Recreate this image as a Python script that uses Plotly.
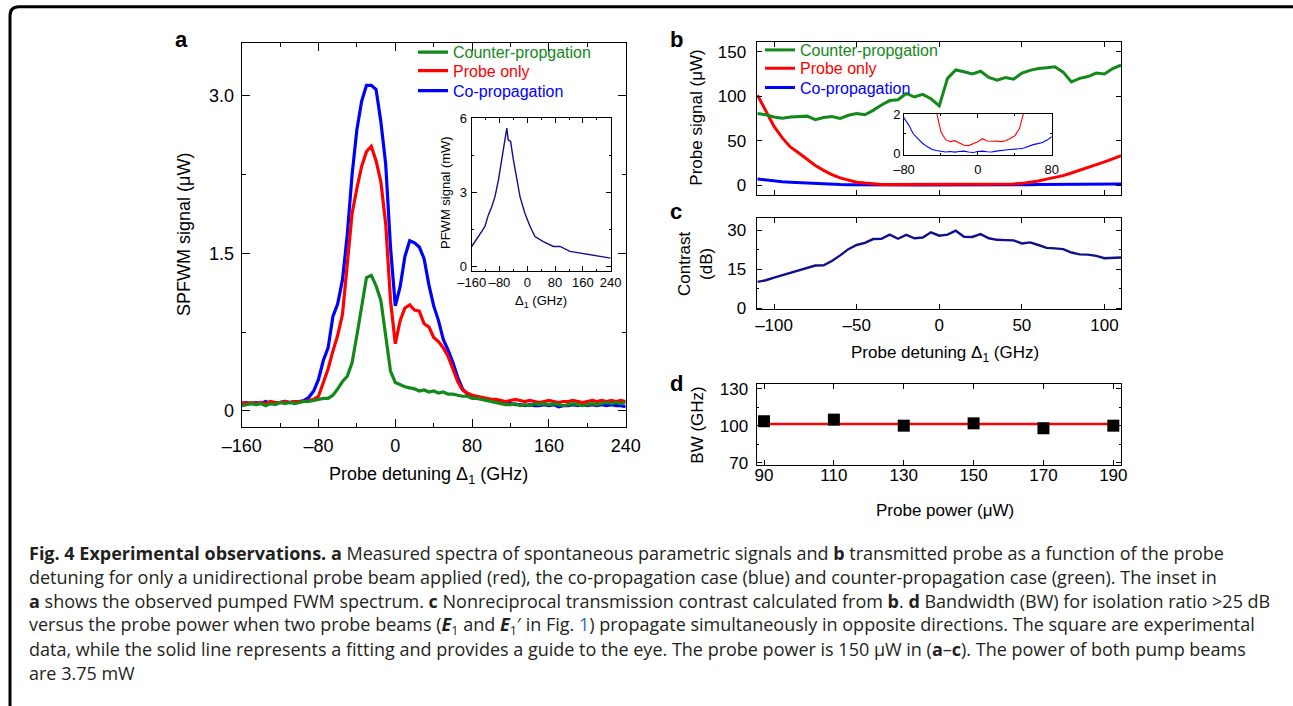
import plotly.graph_objects as go

W, H = 1293, 706
FONT = "Liberation Sans, Arial, sans-serif"
CAP_FONT = "Open Sans, Noto Sans, sans-serif"
GREEN = "#13891a"
RED = "#ff0000"
BLUE = "#0000ff"
NAVY = "#10108a"

# ---------------- panel a: SPFWM spectra ----------------
a_x = [-160, -155, -150, -145, -140, -135, -130, -125, -120, -115, -110, -105, -100, -95, -90,
       -85, -80, -75, -70, -65, -60, -55, -50, -45, -40, -35, -30, -25, -20, -15, -10, -5,
       0, 5, 10, 15, 20, 25, 30, 35, 40, 45, 50, 55, 60, 65, 70, 75, 80, 85, 90, 95, 100,
       105, 110, 115, 120, 125, 130, 135, 140, 145, 150, 155, 160, 165, 170, 175, 180, 185,
       190, 195, 200, 205, 210, 215, 220, 225, 230, 235, 240]
a_counter = [0.05, 0.06, 0.07, 0.06, 0.07, 0.05, 0.07, 0.06, 0.08, 0.07, 0.08, 0.07, 0.08, 0.09, 0.09,
             0.10, 0.11, 0.12, 0.12, 0.15, 0.21, 0.28, 0.33, 0.46, 0.72, 1.02, 1.27, 1.29, 1.19, 1.05, 0.72, 0.38,
             0.27, 0.25, 0.23, 0.22, 0.21, 0.19, 0.20, 0.18, 0.19, 0.17, 0.18, 0.16, 0.16, 0.15, 0.14, 0.14, 0.12, 0.12, 0.11, 0.10, 0.09,
             0.08, 0.07, 0.06, 0.06, 0.07, 0.05, 0.06, 0.05, 0.07, 0.06, 0.07, 0.06, 0.07, 0.06, 0.05, 0.06, 0.07,
             0.06, 0.05, 0.06, 0.07, 0.06, 0.07, 0.08, 0.07, 0.08, 0.07, 0.08]
a_probe = [0.08, 0.07, 0.08, 0.07, 0.08, 0.07, 0.09, 0.08, 0.08, 0.09, 0.08, 0.09, 0.09, 0.09, 0.10,
           0.11, 0.14, 0.26, 0.40, 0.57, 0.72, 0.92, 1.40, 1.88, 2.12, 2.33, 2.47, 2.52, 2.38, 2.18, 1.78, 1.05,
           0.64, 0.86, 0.98, 1.01, 0.96, 0.95, 0.83, 0.80, 0.70, 0.66, 0.60, 0.52, 0.40, 0.28, 0.20, 0.17, 0.15, 0.14, 0.13, 0.12, 0.11,
           0.11, 0.10, 0.09, 0.10, 0.11, 0.10, 0.09, 0.10, 0.09, 0.08, 0.09, 0.10, 0.09, 0.08, 0.09, 0.09, 0.10,
           0.09, 0.08, 0.09, 0.10, 0.09, 0.10, 0.09, 0.10, 0.09, 0.10, 0.09]
a_co = [0.07, 0.08, 0.07, 0.08, 0.07, 0.09, 0.07, 0.08, 0.08, 0.09, 0.08, 0.09, 0.09, 0.10, 0.13,
        0.19, 0.30, 0.48, 0.60, 0.90, 1.02, 1.25, 1.68, 2.25, 2.68, 2.95, 3.10, 3.10, 3.06, 2.75, 2.35, 1.56,
        1.00, 1.18, 1.47, 1.62, 1.60, 1.56, 1.45, 1.20, 1.00, 0.86, 0.68, 0.58, 0.46, 0.32, 0.21, 0.16, 0.14, 0.13, 0.12, 0.11, 0.10,
        0.10, 0.09, 0.08, 0.07, 0.06, 0.06, 0.05, 0.06, 0.05, 0.05, 0.06, 0.05, 0.06, 0.04, 0.05, 0.05, 0.06,
        0.05, 0.06, 0.05, 0.06, 0.05, 0.06, 0.05, 0.06, 0.05, 0.05, 0.04]

# inset of a: pumped FWM spectrum
ia_x = [-160, -146, -131, -122, -112, -102, -93, -83, -74, -64, -59, -55, -48, -40, -30, -21, -7,
        8, 22, 46, 75, 94, 123, 152, 180, 209, 240]
ia_y = [0.81, 1.08, 1.42, 1.62, 2.09, 2.43, 2.83, 3.51, 4.32, 5.13, 5.60, 5.13, 5.06, 4.32, 3.51, 2.83, 2.16,
        1.62, 1.21, 1.01, 0.81, 0.81, 0.61, 0.54, 0.47, 0.43, 0.34]

# ---------------- panel b: transmitted probe ----------------
b_x = [-110, -105, -100, -95, -90, -85, -80, -75, -70, -65, -60, -55, -50, -45, -40, -35, -30, -25,
       -20, -15, -10, -5, 0, 5, 10, 15, 20, 25, 30, 35, 40, 45, 50, 55, 60, 65, 70, 75, 80, 85,
       90, 95, 100, 105, 110]
b_counter = [80.5, 79, 76.5, 75, 76.5, 77, 77.5, 73.5, 76, 77, 75, 78.5, 80.5, 79, 84, 90, 95, 96,
             103, 99, 102, 97, 89, 120, 129.5, 127.5, 125, 128, 121, 118, 121, 119, 126, 129, 131, 132, 133, 127, 116, 120,
             122, 126, 125, 131, 135]
b_probe = [101, 84, 66, 53, 42.5, 36, 28.5, 22, 16.5, 11.7, 8, 5.2, 3.2, 2.15, 1.1, 0.7, 0.6, 0.65,
           0.52, 0.42, 0.40, 0.50, 0.60, 0.75, 0.63, 0.62, 0.63, 0.60, 0.65, 0.76, 0.90, 1.25, 1.85, 3.0, 4.6, 6.6, 8.3, 10.5, 13.5, 16.5,
           19.2, 22.5, 26, 29.5, 33]
b_co = [6.8, 5.6, 4.5, 3.6, 3.0, 2.5, 1.8, 1.45, 1.0, 0.75, 0.52, 0.35, 0.22, 0.15, 0.12, 0.08, 0.10, 0.07,
        0.10, 0.12, 0.08, 0.05, 0.10, 0.12, 0.09, 0.08, 0.12, 0.16, 0.18, 0.20, 0.21, 0.24, 0.28, 0.38, 0.45, 0.50, 0.56, 0.68, 0.85, 0.90,
        0.95, 1.0, 1.0, 1.05, 1.1]

# ---------------- panel c: contrast ----------------
c_contrast = [10.2, 10.8, 11.8, 12.8, 13.6, 14.8, 15.6, 16.5, 16.6, 18.2, 20.4, 22.8, 24.4, 25.2, 26.7, 26.8, 28.4, 26.8,
              28.3, 27.0, 27.3, 29.3, 28.0, 28.4, 29.9, 27.6, 27.5, 28.6, 27.0, 26.4, 26.3, 26.2, 25.0, 25.4, 24.4, 23.3, 23.1, 22.8, 21.5, 20.8,
              20.7, 20.2, 19.3, 19.5, 19.6]

# ---------------- panel d: bandwidth ----------------
d_power = [90, 110, 130, 150, 170, 190]
d_bw = [103.7, 105.0, 100.1, 102.0, 98.0, 100.1]
d_fit_x = [90, 190]
d_fit_y = [101.5, 101.5]

legend_names = ["Counter-propgation", "Probe only", "Co-propagation"]
caption_lines = [
    "<b>Fig. 4 Experimental observations. a</b> Measured spectra of spontaneous parametric signals and <b>b</b> transmitted probe as a function of the probe",
    "detuning for only a unidirectional probe beam applied (red), the co-propagation case (blue) and counter-propagation case (green). The inset in",
    "<b>a</b> shows the observed pumped FWM spectrum. <b>c</b> Nonreciprocal transmission contrast calculated from <b>b</b>. <b>d</b> Bandwidth (BW) for isolation ratio &gt;25 dB",
    "versus the probe power when two probe beams (<b><i>E</i></b><sub>1</sub> and <b><i>E</i></b><sub>1</sub>\u2032 in Fig. <span style='color:#2a6ebb'>1</span>) propagate simultaneously in opposite directions. The square are experimental",
    "data, while the solid line represents a fitting and provides a guide to the eye. The probe power is 150 \u03bcW in (<b>a</b>\u2013<b>c</b>). The power of both pump beams",
    "are 3.75 mW",
]


def px(x):
    return x / W


def py(y):
    return 1 - y / H


def axis(dom, rng, tickvals, ticktext=None, size=17, ticklen=5, minor=None, anchor=None,
         standoff=6, labels=True, lw=1.2):
    d = dict(domain=dom, range=rng, tickvals=tickvals, showline=True, linecolor="black",
             linewidth=lw, mirror="ticks", ticks="inside", ticklen=ticklen, tickwidth=lw,
             tickcolor="black", showgrid=False, zeroline=False, fixedrange=True,
             showticklabels=labels, ticklabelstandoff=standoff, anchor=anchor,
             automargin=False, tickangle=0,
             tickfont=dict(family=FONT, size=size, color="black"))
    if ticktext is not None:
        d["ticktext"] = ticktext
    if minor is not None:
        d["minor"] = dict(tickvals=minor, ticks="inside", ticklen=max(2, ticklen // 2),
                          tickwidth=lw, tickcolor="black", showgrid=False)
    return d


fig = go.Figure()

# panel a traces (blue under red under green)
for name, ys, col, lg in [(legend_names[2], a_co, BLUE, "legend3"),
                          (legend_names[1], a_probe, RED, "legend2"),
                          (legend_names[0], a_counter, GREEN, "legend")]:
    fig.add_trace(go.Scatter(x=a_x, y=ys, mode="lines", name=name, legend=lg,
                             line=dict(color=col, width=3.2), xaxis="x", yaxis="y"))

fig.add_trace(go.Scatter(x=ia_x, y=ia_y, mode="lines", showlegend=False,
                         line=dict(color=NAVY, width=1.4), xaxis="x2", yaxis="y2"))

# panel b traces
for name, ys, col, lg in [(legend_names[2], b_co, BLUE, "legend6"),
                          (legend_names[1], b_probe, RED, "legend5"),
                          (legend_names[0], b_counter, GREEN, "legend4")]:
    fig.add_trace(go.Scatter(x=b_x, y=ys, mode="lines", name=name, legend=lg,
                             line=dict(color=col, width=3.0), xaxis="x3", yaxis="y3"))
# inset of b (same data, zoomed)
for ys, col in [(b_probe, RED), (b_co, BLUE)]:
    fig.add_trace(go.Scatter(x=b_x, y=ys, mode="lines", showlegend=False,
                             line=dict(color=col, width=1.1), xaxis="x4", yaxis="y4"))

# panel c
fig.add_trace(go.Scatter(x=b_x, y=c_contrast, mode="lines", showlegend=False,
                         line=dict(color=NAVY, width=2.4), xaxis="x5", yaxis="y5"))

# panel d
fig.add_trace(go.Scatter(x=d_fit_x, y=d_fit_y, mode="lines", showlegend=False,
                         line=dict(color=RED, width=2.4), xaxis="x6", yaxis="y6"))
fig.add_trace(go.Scatter(x=d_power, y=d_bw, mode="markers", showlegend=False, cliponaxis=False,
                         marker=dict(symbol="square", size=12, color="black"),
                         xaxis="x6", yaxis="y6"))

# ---- layout geometry (pixels -> paper) ----
aL, aR, aT, aB = 241.7, 625.7, 43.3, 426.7
iaL, iaR, iaT, iaB = 471.7, 610.7, 118.3, 270.7
bL, bR = 756.7, 1121.0
bT, bB = 41.7, 195.0
ibL, ibR, ibT, ibB = 904.0, 1051.7, 114.0, 154.5
cT, cB = 218.3, 309.3
dT, dB = 384.0, 465.0

a_ticks = [-160, -80, 0, 80, 160, 240]
a_text = ["\u2013160", "\u201380", "0", "80", "160", "240"]
a_minor = [-120, -40, 40, 120, 200]
bc_ticks = [-100, -50, 0, 50, 100]
bc_text = ["\u2013100", "\u201350", "0", "50", "100"]

layout = dict(
    width=W, height=H, autosize=False,
    margin=dict(l=0, r=0, t=0, b=0, pad=0, autoexpand=False),
    paper_bgcolor="white", plot_bgcolor="white",
    xaxis=axis([px(aL), px(aR)], [-160, 240], a_ticks, a_text, size=18, ticklen=8,
               minor=a_minor, anchor="y", standoff=3),
    yaxis=axis([py(aB), py(aT)], [-0.15, 3.5], [0, 1.5, 3.0], ["0", "1.5", "3.0"], size=18,
               ticklen=8, minor=[0.75, 2.25], anchor="x", standoff=3),
    xaxis2=axis([px(iaL), px(iaR)], [-160, 240], a_ticks, a_text, size=13, ticklen=5,
                minor=a_minor, anchor="y2", standoff=0, lw=1.0),
    yaxis2=axis([py(iaB), py(iaT)], [-0.17, 6], [0, 3, 6], size=13, ticklen=5,
                minor=[1.5, 4.5], anchor="x2", standoff=1, lw=1.0),
    xaxis3=axis([px(bL), px(bR)], [-110.5, 110], bc_ticks, size=17, ticklen=5,
                anchor="y3", labels=False),
    yaxis3=axis([py(bB), py(bT)], [-11.25, 161.25], [0, 50, 100, 150], size=17, ticklen=5,
                anchor="x3", standoff=6),
    xaxis4=axis([px(ibL), px(ibR)], [-80, 80], [-80, 0, 80], ["\u201380", "0", "80"], size=13,
                ticklen=4, minor=[-40, 40], anchor="y4", standoff=3, lw=1.0),
    yaxis4=axis([py(ibB), py(ibT)], [-0.05, 2], [0, 2], size=13, ticklen=4, minor=[1],
                anchor="x4", standoff=0, lw=1.0),
    xaxis5=axis([px(bL), px(bR)], [-110.5, 110], bc_ticks, bc_text, size=17, ticklen=5,
                anchor="y5", standoff=0),
    yaxis5=axis([py(cB), py(cT)], [-0.4, 34.7], [0, 15, 30], size=17, ticklen=5,
                minor=[7.5, 22.5], anchor="x5", standoff=6),
    xaxis6=axis([px(bL), px(bR)], [87.9, 192.2], d_power, size=17, ticklen=5,
                anchor="y6", standoff=-6),
    yaxis6=axis([py(dB), py(dT)], [68.1, 134], [70, 100, 130], size=17, ticklen=5,
                minor=[85, 115], anchor="x6", standoff=4),
)


def leg(xp, yp, col):
    return dict(x=px(xp), y=py(yp), xanchor="left", yanchor="middle", bgcolor="rgba(0,0,0,0)",
                borderwidth=0, font=dict(family=FONT, size=16, color=col))


layout["legend"] = leg(413, 52.3, GREEN)
layout["legend2"] = leg(413, 70.7, RED)
layout["legend3"] = leg(413, 90.7, BLUE)
layout["legend4"] = leg(760, 50.0, GREEN)
layout["legend5"] = leg(760, 68.3, RED)
layout["legend6"] = leg(760, 87.7, BLUE)

ann = []


def text(xp, yp, s, size, angle=0, bold=False, xa="center", ya="middle", fam=FONT, col="black"):
    if bold:
        s = "<b>" + s + "</b>"
    ann.append(dict(x=px(xp), y=py(yp), xref="paper", yref="paper", text=s, showarrow=False,
                    textangle=angle, xanchor=xa, yanchor=ya,
                    font=dict(family=fam, size=size, color=col)))


# panel letters
text(181, 39, "a", 22, bold=True)
text(677, 39, "b", 22, bold=True)
text(676, 211, "c", 22, bold=True)
text(676, 383, "d", 22, bold=True)

# axis titles
text(428, 475, "Probe detuning \u0394<sub>1</sub> (GHz)", 18)
text(184, 235, "SPFWM signal (\u03bcW)", 18, angle=-90)
text(445, 193, "PFWM signal (mW)", 13, angle=-90)
text(540.7, 301.7, "\u0394<sub>1</sub> (GHz)", 13)
text(696.7, 118, "Probe signal (\u03bcW)", 17, angle=-90)
text(696, 264, "Contrast<br>(dB)", 17, angle=-90)
text(945, 354, "Probe detuning \u0394<sub>1</sub> (GHz)", 17)
text(696.7, 425, "BW (GHz)", 17, angle=-90)
text(945, 511, "Probe power (\u03bcW)", 17)

# caption
for i, line in enumerate(caption_lines):
    text(27, 553 + 24 * i, line, 18, xa="left", fam=CAP_FONT, col="#231f20")

layout["annotations"] = ann

# rounded frame (left + top edges)
fx, fy, r = px(10), py(6.7), 9
frame = (f"M {fx},0 L {fx},{py(6.7 + r)} Q {fx},{fy} {px(10 + r)},{fy} L 1,{fy}")
layout["shapes"] = [dict(type="path", xref="paper", yref="paper", path=frame,
                         line=dict(color="black", width=3))]

fig.update_layout(**layout)
fig.write_html("out.html", config={"displayModeBar": False},
               post_script="document.body.style.margin='0px';")
